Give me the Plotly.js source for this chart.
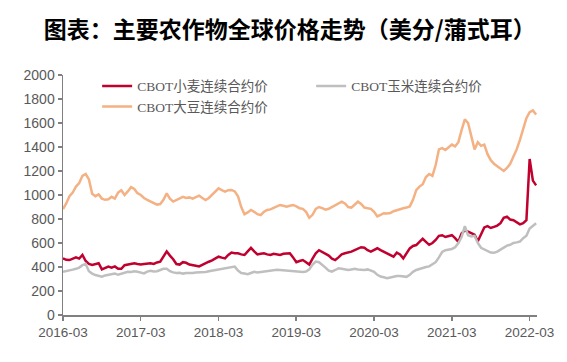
<!DOCTYPE html>
<html>
<head>
<meta charset="utf-8">
<script src="https://cdn.plot.ly/plotly-3.0.1.min.js"></script>
<style>
html,body{margin:0;padding:0;background:#fff;}
#chart{width:567px;height:362px;}
</style>
</head>
<body>
<div id="chart"></div>
<script>
// Half-monthly samples starting 2016-03-01
const startDate = '2016-03-01';
const seriesNames = ['CBOT小麦连续合约价', 'CBOT玉米连续合约价', 'CBOT大豆连续合约价'];
const xTickLabels = ['2016-03','2017-03','2018-03','2019-03','2020-03','2021-03','2022-03'];

const wheat = [
  472,460,458,470,480,470,500,450,425,417,425,431,380,395,403,395,405,385,385,415,420,428,431,425,
  420,425,430,431,425,438,444,490,530,495,465,425,420,440,435,420,418,410,405,420,430,444,455,470,
  486,478,472,500,520,515,514,505,500,530,560,530,505,510,514,505,500,510,505,500,510,515,514,480,
  440,450,458,440,420,470,514,540,525,505,495,470,458,480,505,514,520,528,540,555,565,560,540,528,
  540,556,540,525,514,495,486,520,505,472,510,555,575,583,610,635,610,585,600,625,660,665,650,660,
  665,640,610,680,705,694,685,670,615,680,730,740,725,735,745,765,810,820,795,790,775,755,765,790,
  1300,1120,1080
];
const corn = [
  361,365,372,378,385,395,415,425,365,345,333,325,319,330,335,340,345,335,345,355,360,358,365,360,
  352,347,362,368,362,365,375,385,385,365,355,350,352,345,350,347,350,355,355,360,358,365,370,375,
  378,385,388,392,395,403,370,350,345,340,350,360,355,358,365,370,372,375,378,375,372,375,372,368,
  362,358,358,362,380,420,445,440,420,395,370,362,375,389,385,380,375,380,385,380,378,375,380,370,
  360,335,320,315,306,312,320,325,325,320,318,335,360,375,385,395,400,405,420,440,480,525,540,545,
  550,565,600,650,740,665,655,660,600,560,545,535,520,518,528,545,560,578,585,600,605,612,640,660,
  720,745,765
];
const soybean = [
  883,930,990,1020,1070,1100,1160,1175,1130,1010,990,1005,970,960,965,985,970,1020,1040,1000,1030,1065,1050,1015,
  1000,975,960,945,930,920,925,960,1014,970,945,960,975,985,975,980,970,985,995,975,958,975,1000,1030,
  1055,1040,1028,1040,1042,1030,990,900,840,855,875,860,840,833,860,875,880,892,905,917,910,903,910,917,
  905,890,885,860,810,835,885,900,890,878,885,900,915,930,945,930,900,895,920,944,925,895,890,885,
  860,822,835,848,845,850,865,875,882,890,895,905,960,1040,1070,1090,1150,1175,1160,1250,1380,1390,1375,1400,
  1420,1405,1440,1540,1630,1600,1500,1380,1440,1410,1420,1340,1290,1260,1240,1220,1200,1225,1260,1320,1380,1460,1560,1640,
  1690,1705,1670
];

const colors = ['#C0002F', '#BFBFBF', '#F4B183'];
const halfMonthMs = 365.25 / 24 * 86400000;

const values = [wheat, corn, soybean];
const traces = values.map((v, i) => ({
  type: 'scatter',
  mode: 'lines',
  name: seriesNames[i],
  y: v,
  x0: startDate,
  dx: halfMonthMs,
  line: {color: colors[i], width: 2.5},
  hoverinfo: 'skip'
}));

const tickFont = {family: 'Liberation Sans, Arial, sans-serif', size: 13.5, color: '#595959'};

const layout = {
  width: 567,
  height: 362,
  margin: {l: 63, r: 30, t: 75, b: 47},
  paper_bgcolor: '#ffffff',
  plot_bgcolor: '#ffffff',
  showlegend: true,
  title: {
    text: '图表：主要农作物全球价格走势（美分/蒲式耳）',
    x: 0.511, xanchor: 'center', xref: 'container',
    y: 1 - 29.5 / 362, yanchor: 'middle', yref: 'container',
    font: {family: 'Noto Sans CJK SC, sans-serif', size: 23, color: '#000000', weight: 700}
  },
  xaxis: {
    type: 'date',
    range: ['2016-03-01', '2022-04-05'],
    tick0: '2016-03-01',
    dtick: 'M12',
    tickformat: '%Y-%m',
    ticks: 'outside', ticklen: 4, tickwidth: 1.5, tickcolor: '#808080',
    showline: true, linecolor: '#808080', linewidth: 1.5,
    showgrid: false, zeroline: false,
    tickfont: tickFont
  },
  yaxis: {
    range: [0, 2000],
    dtick: 200,
    ticks: 'outside', ticklen: 4, tickwidth: 1.5, tickcolor: '#808080',
    showline: true, linecolor: '#808080', linewidth: 1.5,
    showgrid: false, zeroline: false,
    tickfont: Object.assign({}, tickFont, {size: 14})
  },
  legend: {
    orientation: 'h',
    x: 0.072, xanchor: 'left',
    y: 1.018, yanchor: 'top',
    entrywidth: 169, entrywidthmode: 'pixels',
    bgcolor: 'rgba(0,0,0,0)',
    font: {family: 'Liberation Serif, Noto Sans CJK SC, serif', size: 13.5, color: '#595959'},
    traceorder: 'normal'
  }
};

Plotly.newPlot('chart', traces, layout, {displayModeBar: false, staticPlot: true});
</script>
</body>
</html>
